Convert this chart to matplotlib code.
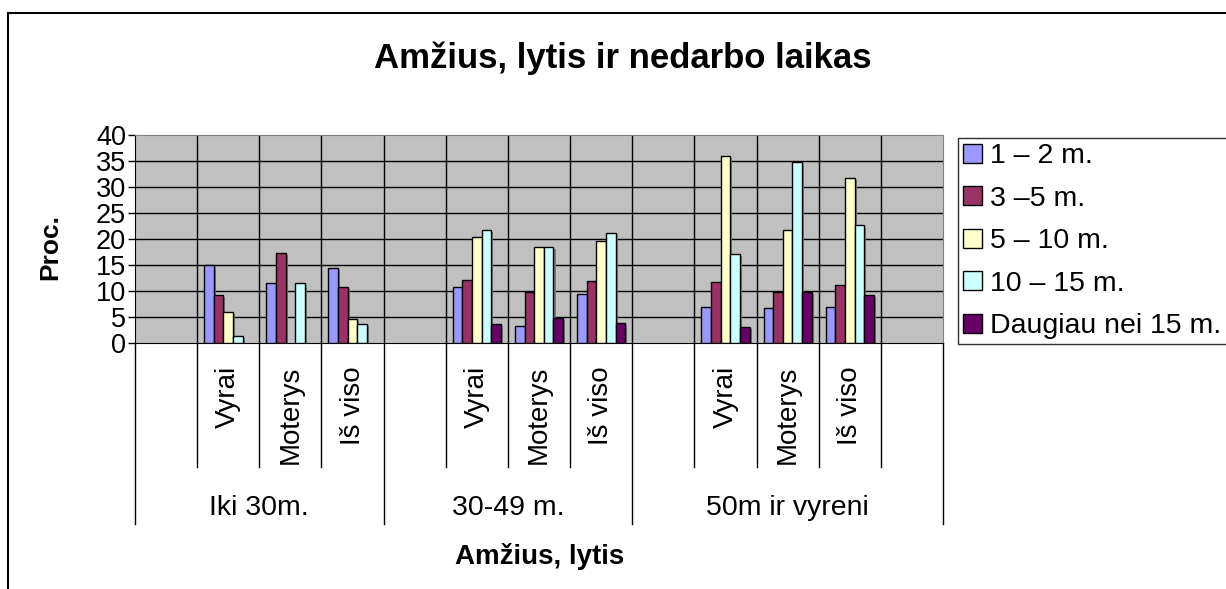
import matplotlib
matplotlib.use("Agg")
import matplotlib.pyplot as plt
import matplotlib.patheffects as path_effects
from matplotlib.lines import Line2D
import numpy as np

plt.rcParams['font.family'] = ['Liberation Sans', 'DejaVu Sans']

# categories (13 slots, blank slot before each group and one at the end)
sub_labels = ["", "Vyrai", "Moterys", "Iš viso",
              "", "Vyrai", "Moterys", "Iš viso",
              "", "Vyrai", "Moterys", "Iš viso", ""]
group_labels = ["Iki 30m.", "30-49 m.", "50m ir vyreni"]
group_spans = [(0, 4), (4, 8), (8, 13)]

series_names = ["1 – 2 m.", "3 –5 m.", "5 – 10 m.", "10 – 15 m.", "Daugiau nei 15 m."]
series_colors = ["#9999FF", "#993366", "#FFFFCC", "#CCFFFF", "#660066"]

m1_2 = [0, 15.0, 11.6, 14.4, 0, 10.8, 3.2, 9.4, 0, 6.9, 6.7, 6.9, 0]
m3_5 = [0, 9.2, 17.4, 10.8, 0, 12.2, 9.9, 11.9, 0, 11.7, 9.9, 11.2, 0]
m5_10 = [0, 6.0, 0, 4.7, 0, 20.3, 18.4, 19.7, 0, 36.0, 21.7, 31.7, 0]
m10_15 = [0, 1.3, 11.6, 3.6, 0, 21.7, 18.4, 21.1, 0, 17.2, 34.9, 22.6, 0]
over15 = [0, 0, 0, 0, 0, 3.6, 4.9, 3.8, 0, 3.0, 9.9, 9.2, 0]
series = [m1_2, m3_5, m5_10, m10_15, over15]

W, H = 1226, 589
fig = plt.figure(figsize=(W / 100, H / 100), dpi=100)
fig.patch.set_facecolor("white")

# plot area in pixels: x 135..943, y 135..343
ax = fig.add_axes([135 / W, 1 - 343 / H, (943 - 135) / W, (343 - 135) / H])
ax.set_facecolor("#C0C0C0")
n = len(sub_labels)
ax.set_xlim(0, n)
ax.set_ylim(0, 40)

# grid
for yv in range(5, 40, 5):
    ax.axhline(yv, color="black", lw=1, zorder=1)
for xv in range(1, n):
    ax.axvline(xv, color="black", lw=1, zorder=1)

bw = 0.155
centers = np.arange(n) + 0.5
shadow = [path_effects.SimplePatchShadow(offset=(1.5, -1.5), shadow_rgbFace="#7a7a7a", alpha=1.0),
          path_effects.Normal()]
for k, (vals, col, name) in enumerate(zip(series, series_colors, series_names)):
    vals = np.array(vals, dtype=float)
    mask = vals > 0
    bars = ax.bar(centers[mask] + (k - 2) * bw, vals[mask], width=bw, color=col,
                  edgecolor="black", linewidth=1, zorder=3, label=name)
    for b in bars:
        b.set_path_effects(shadow)

ax.set_yticks(range(0, 41, 5))
ax.tick_params(axis="y", direction="out", length=5, width=1, labelsize=19.5, pad=1.5)
ax.set_xticks([])
for s in ("top", "right"):
    ax.spines[s].set_color("#808080")
for s in ("left", "bottom"):
    ax.spines[s].set_color("black")

# category axis lines and labels below the plot
tr = ax.get_xaxis_transform()
sub_bottom = -(467 - 343) / 208
grp_bottom = -(524 - 343) / 208
grp_starts = {a for a, b in group_spans} | {n}
for xv in range(0, n + 1):
    yb = grp_bottom if xv in grp_starts else sub_bottom
    ax.add_line(Line2D([xv, xv], [0, yb], transform=tr, color="black", lw=1, clip_on=False))
for c, lab in zip(centers, sub_labels):
    if lab:
        ax.text(c, -(366 - 343) / 208, lab, transform=tr, rotation=90, ha="center", va="top",
                fontsize=20)
for (a, b), lab in zip(group_spans, group_labels):
    ax.text((a + b) / 2, -(508 - 343) / 208, lab, transform=tr, ha="center", va="center",
            fontsize=20.5)

fig.text(623 / W, 1 - 58 / H, "Amžius, lytis ir nedarbo laikas", ha="center", va="center",
         fontsize=25, fontweight="bold")
fig.text(540 / W, 1 - 557 / H, "Amžius, lytis", ha="center", va="center",
         fontsize=20, fontweight="bold")
fig.text(50 / W, 1 - 247 / H, "Proc.", ha="center", va="center", rotation=90,
         fontsize=19, fontweight="bold")

leg = fig.legend(loc="upper left", bbox_to_anchor=(958 / W, 1 - 138 / H), fontsize=20.5,
                 frameon=True, fancybox=False, borderpad=0.18, handlelength=0.65,
                 handleheight=0.65, handletextpad=0.3, labelspacing=0.58, borderaxespad=0)
leg.get_frame().set_edgecolor("black")
leg.get_frame().set_linewidth(1)
for h in leg.legend_handles:
    h.set_path_effects([])

# outer chart border (left and top)
fig.add_artist(Line2D([8 / W, 8 / W], [0, 1 - 13 / H], color="black", lw=1.5))
fig.add_artist(Line2D([8 / W, 1], [1 - 13 / H, 1 - 13 / H], color="black", lw=1.5))

fig.savefig("out.png", dpi=100)
